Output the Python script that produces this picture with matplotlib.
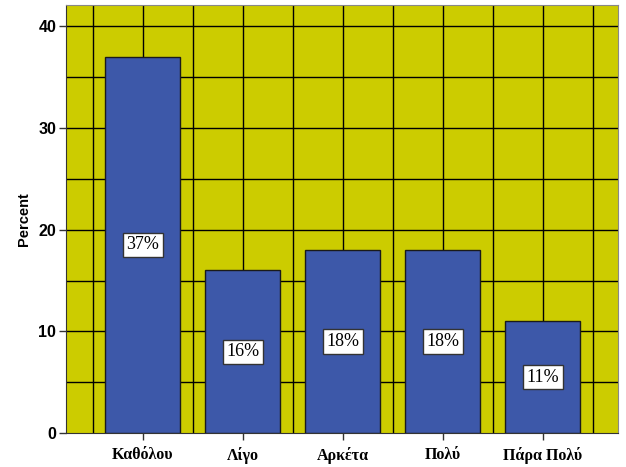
import numpy as np
import matplotlib
matplotlib.use("Agg")
import matplotlib.pyplot as plt

# donnees
categories = ["Καθόλου", "Λίγο", "Αρκέτα", "Πολύ", "Πάρα Πολύ"]
percents = [37, 16, 18, 18, 11]
labels = ["37%", "16%", "18%", "18%", "11%"]

BG = "#cccc00"
BAR = "#3d58a9"

fig = plt.figure(figsize=(6.26, 4.67), dpi=100)
ax = fig.add_axes([0.1054, 0.0728, 0.8818, 0.9162])
ax.set_facecolor(BG)

x = np.arange(len(categories))
ax.bar(x, percents, width=0.75, color=BAR, edgecolor="#1a1a1a", linewidth=1.0, zorder=3)

# grille noire derriere les barres (tous les 0.5 en x, tous les 5 en y)
for gx in np.arange(-0.5, 5.0, 0.5):
    ax.axvline(gx, color="black", linewidth=1.0, zorder=1)
for gy in np.arange(5, 45, 5):
    ax.axhline(gy, color="black", linewidth=1.0, zorder=1)

for xi, v, lab in zip(x, percents, labels):
    ax.text(xi, v / 2, lab, ha="center", va="center", fontsize=13,
            family="Liberation Serif", zorder=5,
            bbox=dict(boxstyle="square,pad=0.2", facecolor="white",
                      edgecolor="#333333", linewidth=1.0))

ax.set_xlim(-0.77, 4.75)
ax.set_ylim(0, 42.1)
ax.set_xticks(x)
ax.set_xticklabels(categories, family="Liberation Serif", fontweight="bold", fontsize=11.5)
ax.set_yticks([0, 10, 20, 30, 40])
ax.set_yticklabels(["0", "10", "20", "30", "40"], family="Liberation Sans",
                   fontweight="bold", fontsize=11.5)
ax.tick_params(axis="both", length=5, width=1, color="#333333", pad=2)
ax.tick_params(axis="x", pad=5)

ax.set_ylabel("Percent", family="Liberation Sans", fontweight="bold", fontsize=10.5, labelpad=5)

for side in ["left", "bottom"]:
    ax.spines[side].set_color("#333333")
for side in ["top", "right"]:
    ax.spines[side].set_color("#888888")

fig.savefig("out.png", dpi=100)
